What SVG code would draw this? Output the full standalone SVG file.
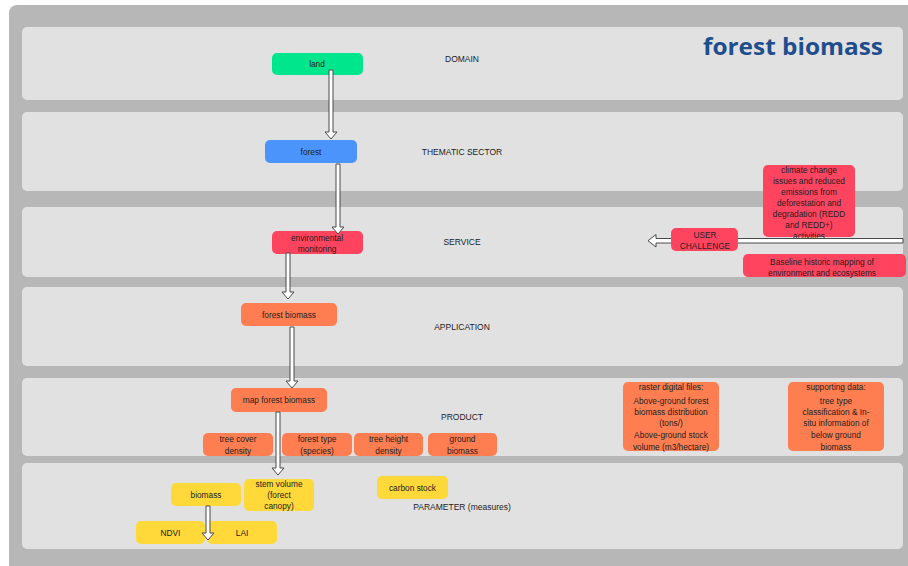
<svg xmlns="http://www.w3.org/2000/svg" width="908" height="566" viewBox="0 0 908 566">
  <defs>
    <style>
      .band { fill: #e1e1e1; }
      .lbl { font-family: "Liberation Sans", Arial, sans-serif; font-size: 8.5px; fill: #222; text-anchor: middle; }
      .t { font-family: "Liberation Sans", Arial, sans-serif; font-size: 8.3px; fill: #222; text-anchor: middle; }
      .green { fill: #00e68c; }
      .blue { fill: #4b94fb; }
      .red { fill: #ff445f; }
      .orange { fill: #fe7e51; }
      .yellow { fill: #ffd83a; }
      .arrow { fill: #ffffff; stroke: #4a4a4a; stroke-width: 1; stroke-linejoin: miter; }
    </style>
  </defs>

  <!-- page and frame -->
  <rect x="0" y="0" width="908" height="566" fill="#ffffff"/>
  <rect x="9" y="5" width="910" height="575" rx="8" fill="#b7b7b7"/>

  <!-- layer bands -->
  <g id="bands">
    <rect class="band" x="22" y="27" width="881" height="73" rx="5"/>
    <rect class="band" x="22" y="112" width="881" height="79" rx="5"/>
    <rect class="band" x="22" y="207" width="881" height="70" rx="5"/>
    <rect class="band" x="22" y="287" width="881" height="79" rx="5"/>
    <rect class="band" x="22" y="378" width="881" height="78" rx="5"/>
    <rect class="band" x="22" y="463" width="881" height="86" rx="5"/>
  </g>

  <!-- title -->
  <text x="883" y="55" text-anchor="end" font-family="'Open Sans', 'Liberation Sans', sans-serif" font-weight="bold" font-size="24" fill="#1f4e8c" textLength="180" lengthAdjust="spacingAndGlyphs">forest biomass</text>

  <!-- layer labels -->
  <g id="layer-labels">
    <text class="lbl" x="462" y="62">DOMAIN</text>
    <text class="lbl" x="462" y="155">THEMATIC SECTOR</text>
    <text class="lbl" x="462" y="245">SERVICE</text>
    <text class="lbl" x="462" y="330">APPLICATION</text>
    <text class="lbl" x="462" y="420">PRODUCT</text>
    <text class="lbl" x="462" y="510">PARAMETER (measures)</text>
  </g>

  <!-- domain -->
  <g id="land">
    <rect class="green" x="272" y="53" width="91" height="22" rx="5"/>
    <text class="t" x="317" y="67">land</text>
  </g>

  <!-- thematic sector -->
  <g id="forest">
    <rect class="blue" x="265" y="140" width="92" height="23" rx="5"/>
    <text class="t" x="311" y="154.5">forest</text>
  </g>

  <!-- service -->
  <g id="environmental-monitoring">
    <rect class="red" x="272" y="231" width="91" height="23" rx="5"/>
    <text class="t" x="317" y="241">environmental</text>
    <text class="t" x="317" y="252">monitoring</text>
  </g>

  <g id="climate-change">
    <rect class="red" x="763" y="165" width="92" height="72" rx="5"/>
    <text class="t" x="809" y="173">climate change</text>
    <text class="t" x="809" y="184">issues and reduced</text>
    <text class="t" x="809" y="195">emissions from</text>
    <text class="t" x="809" y="205.5">deforestation and</text>
    <text class="t" x="809" y="216.5">degradation (REDD</text>
    <text class="t" x="809" y="227.5">and REDD+)</text>
    <text class="t" x="809" y="239">activities</text>
  </g>

  <g id="baseline-mapping">
    <rect class="red" x="743" y="254" width="163" height="23" rx="5"/>
    <text class="t" x="822" y="265">Baseline historic mapping of</text>
    <text class="t" x="822" y="276">environment and ecosystems</text>
  </g>

  <!-- application -->
  <g id="forest-biomass">
    <rect class="orange" x="241" y="303" width="96" height="23" rx="5"/>
    <text class="t" x="289" y="317.5">forest biomass</text>
  </g>

  <!-- product -->
  <g id="map-forest-biomass">
    <rect class="orange" x="231" y="388" width="96" height="24" rx="5"/>
    <text class="t" x="279" y="403">map forest biomass</text>
  </g>

  <g id="tree-cover-density">
    <rect class="orange" x="203" y="433" width="70" height="23" rx="5"/>
    <text class="t" x="238" y="442">tree cover</text>
    <text class="t" x="238" y="453.5">density</text>
  </g>

  <g id="forest-type">
    <rect class="orange" x="282" y="433" width="70" height="23" rx="5"/>
    <text class="t" x="317" y="442">forest type</text>
    <text class="t" x="317" y="453.5">(species)</text>
  </g>

  <g id="tree-height-density">
    <rect class="orange" x="354" y="433" width="69" height="23" rx="5"/>
    <text class="t" x="388.5" y="442">tree height</text>
    <text class="t" x="388.5" y="453.5">density</text>
  </g>

  <g id="ground-biomass">
    <rect class="orange" x="428" y="433" width="69" height="23" rx="5"/>
    <text class="t" x="462.5" y="442">ground</text>
    <text class="t" x="462.5" y="453.5">biomass</text>
  </g>

  <g id="raster-digital-files">
    <rect class="orange" x="623" y="382" width="96" height="69" rx="5"/>
    <text class="t" x="671" y="390">raster digital files:</text>
    <text class="t" x="671" y="404">Above-ground forest</text>
    <text class="t" x="671" y="415">biomass distribution</text>
    <text class="t" x="671" y="426">(tons/)</text>
    <text class="t" x="671" y="438">Above-ground stock</text>
    <text class="t" x="671" y="450">volume (m3/hectare)</text>
  </g>

  <g id="supporting-data">
    <rect class="orange" x="788" y="382" width="96" height="69" rx="5"/>
    <text class="t" x="836" y="390">supporting data:</text>
    <text class="t" x="836" y="404">tree type</text>
    <text class="t" x="836" y="415">classification &amp; In-</text>
    <text class="t" x="836" y="426">situ information of</text>
    <text class="t" x="836" y="438">below ground</text>
    <text class="t" x="836" y="450">biomass</text>
  </g>

  <!-- parameters -->
  <g id="biomass">
    <rect class="yellow" x="171" y="483" width="70" height="23" rx="5"/>
    <text class="t" x="206" y="497.5">biomass</text>
  </g>

  <g id="stem-volume">
    <rect class="yellow" x="244" y="479" width="70" height="32" rx="5"/>
    <text class="t" x="279" y="487">stem volume</text>
    <text class="t" x="279" y="498">(forect</text>
    <text class="t" x="279" y="509">canopy)</text>
  </g>

  <g id="carbon-stock">
    <rect class="yellow" x="377" y="476" width="71" height="23" rx="5"/>
    <text class="t" x="412.5" y="491">carbon stock</text>
  </g>

  <g id="ndvi">
    <rect class="yellow" x="136" y="521" width="69" height="23" rx="5"/>
    <text class="t" x="170.5" y="535.5">NDVI</text>
  </g>

  <g id="lai">
    <rect class="yellow" x="207" y="521" width="70" height="23" rx="5"/>
    <text class="t" x="242" y="535.5">LAI</text>
  </g>

  <!-- connectors: hollow block arrows -->
  <g id="connectors">
    <path class="arrow" d="M329,70 H333 V132 H337 L331,139 L325,132 H329 Z"/>
    <path class="arrow" d="M336,164 H340 V227 H344 L338,234 L332,227 H336 Z"/>
    <path class="arrow" d="M286,253 H290 V292 H294 L288,299 L282,292 H286 Z"/>
    <path class="arrow" d="M290,327 H294 V381 H298 L292,388 L286,381 H290 Z"/>
    <path class="arrow" d="M276,412 H280 V468 H284 L278,475 L272,468 H276 Z"/>
    <path class="arrow" d="M206,506 H210 V533 H214 L208,540 L202,533 H206 Z"/>
    <path class="arrow" d="M903,238.5 V243 H656 V247 L648,240.75 L656,234.5 V238.5 Z"/>
  </g>

  <!-- user challenge sits over its connector -->
  <g id="user-challenge">
    <rect class="red" x="671" y="228" width="67" height="23" rx="5"/>
    <text class="t" x="705" y="237.5">USER</text>
    <text class="t" x="705" y="249">CHALLENGE</text>
  </g>
</svg>
